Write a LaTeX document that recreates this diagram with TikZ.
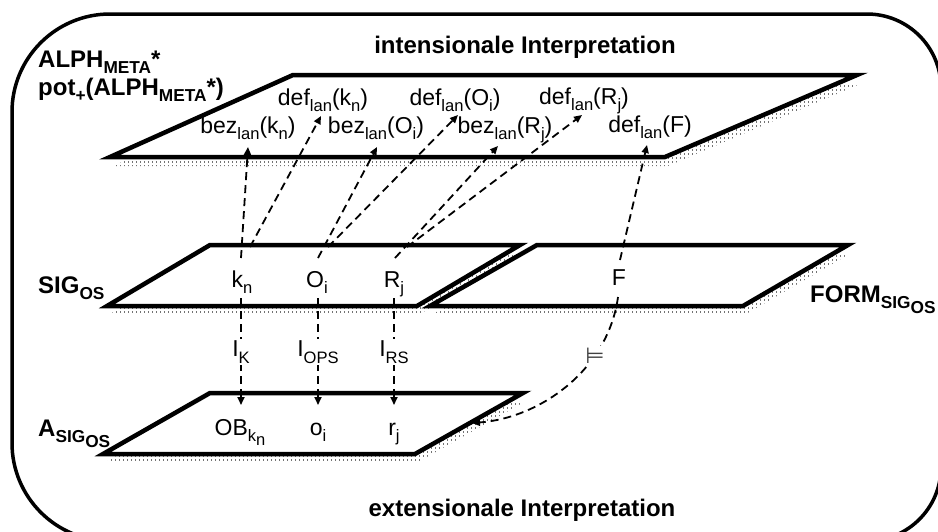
\documentclass[tikz,border=0pt]{standalone}
\usepackage{fontspec}
\setmainfont{Liberation Sans}
\newfontfamily\symf{DejaVu Sans}
\usetikzlibrary{arrows.meta}
\newcommand\sbs[1]{\raisebox{-0.28em}{\scalebox{0.72}{#1}}}
\newcommand\sbsb[1]{\raisebox{-0.25em}{#1}}
\begin{document}
\begin{tikzpicture}[x=1pt,y=-1pt,
  plane/.style={draw, line width=4.5pt, fill=white},
  dotrow/.style={draw=black!55, line width=1.2pt, dash pattern=on 1.2pt off 2.8pt},
  lab/.style={font=\fontsize{23}{27}\selectfont, inner sep=1pt, anchor=base},
  blab/.style={font=\bfseries\fontsize{24}{28}\selectfont, inner sep=1pt, anchor=base},
  dar/.style={line width=1.8pt, dash pattern=on 8pt off 5pt, -{Triangle[length=8pt,width=7pt]}},
  gap/.style={fill=white, inner sep=2pt}]
\useasboundingbox (0,0) rectangle (938,531);
\clip (0,0) rectangle (938,531);
% outer frame
\draw[line width=3.5pt] (12,300) [rounded corners=98pt] -- (12,14) [rounded corners=74pt] -- (941,14) -- (941,541) [rounded corners=98pt] -- (12,541) [sharp corners] -- (12,300);
% top plane
\begin{scope}
  \clip[shift={(3,9)}] (110,157) -- (293,75) -- (857,75) -- (665,157) -- cycle;
  \foreach \yy in {78,82,...,170} \draw[dotrow] (100,\yy) -- (880,\yy);
\end{scope}
\draw[plane] (110,157) -- (293,75) -- (857,75) -- (665,157) -- cycle;
% middle planes
\begin{scope}
  \clip[shift={(3,8)}] (107,306) -- (210,245) -- (520,245) -- (417,306) -- cycle;
  \foreach \yy in {248,252,...,318} \draw[dotrow] (100,\yy) -- (540,\yy);
\end{scope}
\draw[plane] (107,306) -- (210,245) -- (520,245) -- (417,306) -- cycle;
\begin{scope}
  \clip[shift={(3,8)}] (430,306) -- (537,245) -- (848,245) -- (743,306) -- cycle;
  \foreach \yy in {248,252,...,318} \draw[dotrow] (420,\yy) -- (870,\yy);
\end{scope}
\draw[plane] (430,306) -- (537,245) -- (848,245) -- (743,306) -- cycle;
% bottom plane
\begin{scope}
  \clip[shift={(3,8)}] (103,454) -- (210,393) -- (523,393) -- (415,454) -- cycle;
  \foreach \yy in {396,400,...,466} \draw[dotrow] (95,\yy) -- (540,\yy);
\end{scope}
\draw[plane] (103,454) -- (210,393) -- (523,393) -- (415,454) -- cycle;
\coordinate (Aedge) at (472,423);
% bold labels
\node[blab] (tI) at (525,53) {intensionale Interpretation};
\node[blab] (tE) at (522,516) {extensionale Interpretation};
\node[blab, anchor=base west] (alph) at (37,67) {ALPH\sbs{META}*};
\node[blab, anchor=base west] (pot) at (37,95) {pot\sbs{+}(ALPH\sbs{META}*)};
\node[blab, anchor=base west] (sig) at (37,293) {SIG\sbs{OS}};
\node[blab, anchor=base west] (form) at (809,302) {FORM\sbs{SIG\sbsb{OS}}};
\node[blab, anchor=base west] (asig) at (37,436) {A\sbs{SIG\sbsb{OS}}};
% top plane texts
\node[lab] (defkn) at (323,105) {def\sbs{lan}(k\sbs{n})};
\node[lab] (defOi) at (455,105) {def\sbs{lan}(O\sbs{i})};
\node[lab] (defRj) at (584,104) {def\sbs{lan}(R\sbs{j})};
\node[lab] (bezkn) at (248,133) {bez\sbs{lan}(k\sbs{n})};
\node[lab] (bezOi) at (376,133) {bez\sbs{lan}(O\sbs{i})};
\node[lab] (bezRj) at (505,133) {bez\sbs{lan}(R\sbs{j})};
\node[lab] (defF) at (650,132) {def\sbs{lan}(F)};
% middle texts
\node[lab] (kn) at (242,287) {k\sbs{n}};
\node[lab] (Oi) at (317,287) {O\sbs{i}};
\node[lab] (Rj) at (394,287) {R\sbs{j}};
\node[lab] (F) at (619,285) {F};
% bottom texts
\node[lab] (OB) at (240,435) {OB\sbs{k\sbsb{n}}};
\node[lab] (oi) at (318,435) {o\sbs{i}};
\node[lab] (rj) at (394,435) {r\sbs{j}};
% upward arrows
\draw[dar] ([shift={(-1,-29)}]kn.base) -- ([shift={(0,14)}]bezkn.base);
\draw[dar] ([shift={(8,-40)}]kn.base) -- ([shift={(-2,11)}]defkn.base);
\draw[dar] ([shift={(1,-29)}]Oi.base) -- ([shift={(1,14)}]bezOi.base);
\draw[dar] ([shift={(11,-40)}]Oi.base) -- ([shift={(3,10)}]defOi.base);
\draw[dar] ([shift={(1,-29)}]Rj.base) -- ([shift={(-7,13)}]bezRj.base);
\draw[dar] ([shift={(13,-40)}]Rj.base) -- ([shift={(-2,11)}]defRj.base);
\draw[dar] ([shift={(1,-25)}]F.base) -- ([shift={(-3,13)}]defF.base);
% downward arrows
\draw[dar] ([shift={(-1,11)}]kn.base) -- node[lab, gap, pos=0.55] (IK) {I\sbs{K}} ([shift={(1,-30)}]OB.base);
\draw[dar] ([shift={(1,11)}]Oi.base) -- node[lab, gap, pos=0.55] (IOPS) {I\sbs{OPS}} ([shift={(0,-30)}]oi.base);
\draw[dar] ([shift={(0,11)}]Rj.base) -- node[lab, gap, pos=0.55] (IRS) {I\sbs{RS}} ([shift={(0,-30)}]rj.base);
\draw[dar] ([shift={(-1,12)}]F.base) .. controls (608,370) and (540,418) .. node[gap, pos=0.3, font=\symf\fontsize{22}{26}\selectfont, text=black!75] (mod) {⊨} (Aedge);
\end{tikzpicture}
\end{document}
